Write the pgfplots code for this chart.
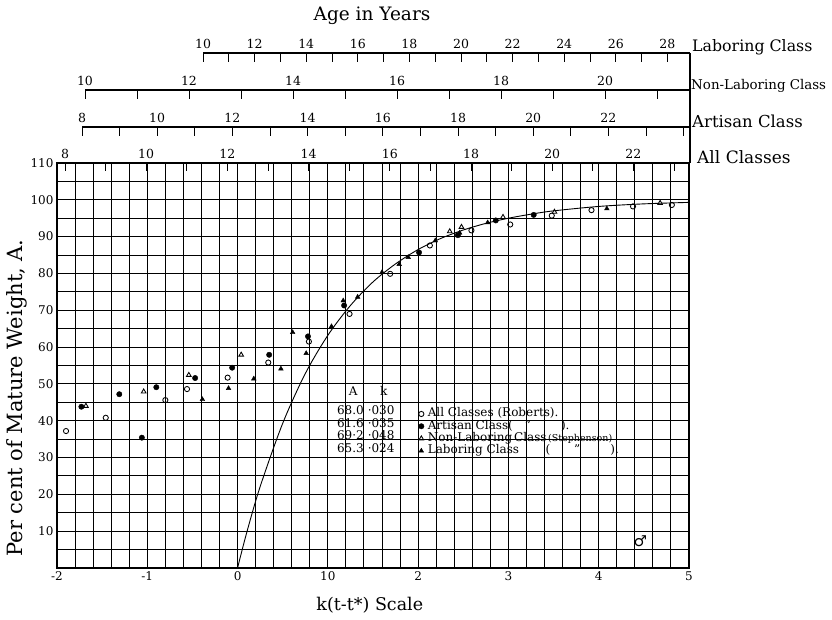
\documentclass[border=0pt]{standalone}
\usepackage{fontspec}
\setmainfont{DejaVu Serif}
\newfontfamily\symbolfont{DejaVu Sans}
\usepackage{pgfplots}
\pgfplotsset{compat=1.18}

\newcommand{\fsz}[1]{\fontsize{#1}{#1}\selectfont}

% growth data: per cent of mature weight against k(t-t*)
\pgfplotstableread{
x y
-1.90 37.2
-1.46 40.8
-0.80 45.6
-0.56 48.6
-0.11 51.7
0.34 55.8
0.79 61.5
1.24 69.0
1.69 79.9
2.13 87.6
2.59 91.7
3.02 93.3
3.48 95.7
3.92 97.2
4.38 98.2
4.81 98.6
}\allclasses
\pgfplotstableread{
x y
-1.73 43.8
-1.31 47.2
-1.06 35.4
-0.90 49.1
-0.47 51.6
-0.06 54.4
0.35 57.9
0.78 62.9
1.18 71.3
2.01 85.7
2.44 90.4
2.86 94.4
3.28 95.9
}\artisan
\pgfplotstableread{
x y
-1.68 44.0
-1.04 47.9
-0.54 52.4
0.04 57.9
2.35 91.4
2.48 92.6
2.94 95.3
3.51 96.7
4.68 99.1
}\nonlaboring
\pgfplotstableread{
x y
-0.39 45.8
-0.10 48.8
0.18 51.4
0.48 54.1
0.61 64.0
0.76 58.3
1.04 65.6
1.17 72.6
1.33 73.6
1.60 80.3
1.79 82.5
1.89 84.4
2.19 88.9
2.46 91.0
2.77 93.8
4.09 97.6
}\laboring
\pgfplotstableread{
x y
0 0
0.1 9.5
0.25 22.1
0.5 39.3
0.75 52.8
1 63.2
1.25 71.3
1.5 77.7
1.75 82.6
2 86.5
2.25 89.5
2.5 91.8
2.75 93.6
3 95.0
3.25 96.1
3.5 97.0
4 98.2
4.5 98.9
5 99.3
}\fitcurve

\begin{document}
\begin{tikzpicture}[x=1pt,y=1pt]
\path[use as bounding box] (0,0) rectangle (832,620);

\node[font=\fsz{18.5}] at (372,604) {Age in Years};

% Laboring class age scale
\draw[line width=1.1pt] (203,567) -- (690,567);
\foreach \a in {10,...,28} {\draw[line width=1pt] ({203+(\a-10)*25.8},567) -- ++(0,-9);}
\foreach \a in {10,12,...,28} {\node[anchor=base, font=\fsz{12.5}, inner sep=0pt] at ({203+(\a-10)*25.8},571) {\a};}
\node[anchor=west, font=\fsz{15.8}, inner sep=0pt] at (692,573) {Laboring Class};

% Non-laboring class age scale
\draw[line width=1.1pt] (85,530) -- (690,530);
\foreach \a in {10,...,21} {\draw[line width=1pt] ({85+(\a-10)*52.0},530) -- ++(0,-9);}
\foreach \a in {10,12,...,20} {\node[anchor=base, font=\fsz{12.5}, inner sep=0pt] at ({85+(\a-10)*52.0},534) {\a};}
\node[anchor=west, font=\fsz{13.4}, inner sep=0pt] at (691,534) {Non-Laboring Class};

% Artisan class age scale
\draw[line width=1.1pt] (82,493) -- (690,493);
\foreach \a in {8,...,24} {\draw[line width=1pt] ({82+(\a-8)*37.6},493) -- ++(0,-9);}
\foreach \a in {8,10,...,22} {\node[anchor=base, font=\fsz{12.5}, inner sep=0pt] at ({82+(\a-8)*37.6},497) {\a};}
\node[anchor=west, font=\fsz{16.5}, inner sep=0pt] at (692,499) {Artisan Class};

% all classes age scale along the top of the frame
\foreach \a in {8,...,23} {\draw[line width=1pt] ({65+(\a-8)*40.6},457) -- ++(0,-8);}
\foreach \a in {8,10,...,22} {\node[anchor=base, font=\fsz{12.5}, inner sep=0pt] at ({65+(\a-8)*40.6},461) {\a};}
\node[anchor=west, font=\fsz{17}, inner sep=0pt] at (697,463) {All Classes};
\draw[line width=1.1pt] (690,567) -- (690,457);

\begin{axis}[
  at={(57pt,52pt)}, anchor=south west,
  width=632pt, height=405pt, scale only axis,
  xmin=-2, xmax=5, ymin=0, ymax=110,
  xtick={-2,-1,0,1,2,3,4,5},
  xticklabels={-2,-1,0,10,2,3,4,5},
  minor x tick num=4,
  ytick={10,20,...,110},
  minor ytick={5,15,...,105},
  grid=both,
  major grid style={black, line width=1pt},
  minor grid style={black, line width=1pt},
  major tick length=0pt, minor tick length=0pt,
  axis line style={line width=1.2pt},
  /pgf/number format/assume math mode=true,
  ticklabel style={font=\fsz{12}},
  xlabel={k(t-t*) Scale},
  xlabel style={font=\fsz{17.5}, at={(axis description cs:0.495,-0.091)}, anchor=center},
  ylabel={Per cent of Mature Weight, A.},
  ylabel style={font=\fsz{21}, at={(axis description cs:-0.064,0.42)}, anchor=center},
  legend style={at={(axis cs:1.97,44.1)}, anchor=north west, draw=none, fill=none,
    font=\fsz{12}, row sep=0pt,
    nodes={inner sep=0.8pt, text height=8.3pt, text depth=2.4pt},
    /tikz/every odd column/.append style={column sep=3pt}},
  legend cell align=left,
  legend image code/.code={\draw[#1] plot coordinates {(0.1cm,0cm)};},
]
\addplot[smooth, line width=0.9pt, forget plot] table {\fitcurve};

\addplot[only marks, mark=o, mark size=2.6pt, mark options={line width=0.85pt}] table {\allclasses};
\addlegendentry{All Classes (Roberts).}
\addplot[only marks, mark=*, mark size=2.7pt] table {\artisan};
\addlegendentry{Artisan Class(\hspace{1em}"\hspace{2.5em}).}
\addplot[only marks, mark=triangle, mark size=2.7pt, mark options={line width=0.85pt}] table {\nonlaboring};
\addlegendentry{Non-Laboring\hspace{0.15em}Class{\fsz{9.5}\,(Stephenson)}}
\addplot[only marks, mark=triangle*, mark size=2.7pt] table {\laboring};
\addlegendentry{Laboring Class\hspace{2.2em}(\hspace{2em}"\hspace{2.5em}).}

% constants of the fitted curves
\begin{scope}[every node/.style={font=\fsz{12}, inner sep=0.8pt, text height=8.3pt, text depth=2.4pt}]
\node at (axis cs:1.28,47.6) {A};
\node at (axis cs:1.62,47.6) {k};
\node at (axis cs:1.25,42.4) {68.0};
\node at (axis cs:1.59,42.4) {·030};
\node at (axis cs:1.25,38.9) {61.6};
\node at (axis cs:1.59,38.9) {·035};
\node at (axis cs:1.25,35.6) {69·2};
\node at (axis cs:1.59,35.6) {·048};
\node at (axis cs:1.25,32.3) {65.3};
\node at (axis cs:1.59,32.3) {·024};
\end{scope}
\node[font=\symbolfont\fsz{15}] at (axis cs:4.46,7.2) {♂};
\end{axis}
\end{tikzpicture}
\end{document}
